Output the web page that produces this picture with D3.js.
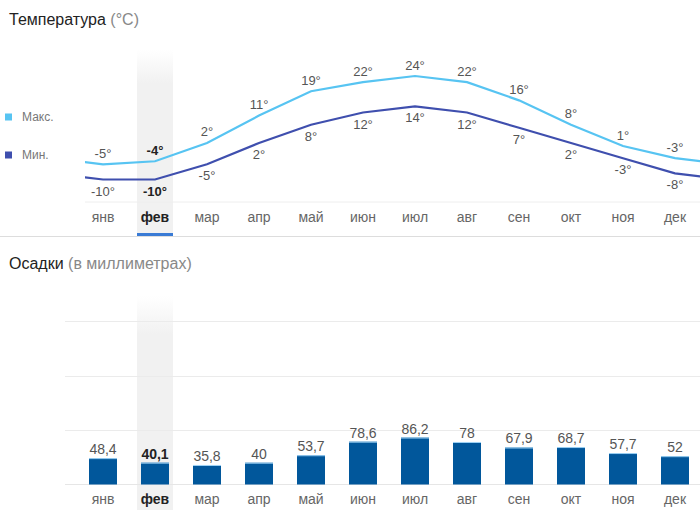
<!DOCTYPE html>
<html><head><meta charset="utf-8">
<script src="https://cdn.jsdelivr.net/npm/d3@7"></script>
<style>
body{margin:0;background:#fff;}
svg{display:block;font-family:"Liberation Sans",Arial,sans-serif;}
</style></head>
<body><svg id="c" width="700" height="510"></svg>
<script>
const months = ["янв","фев","мар","апр","май","июн","июл","авг","сен","окт","ноя","дек"];
const tMax = [-5,-4,2,11,19,22,24,22,16,8,1,-3];
const tMin = [-10,-10,-5,2,8,12,14,12,7,2,-3,-8];
const precip = [48.4,40.1,35.8,40,53.7,78.6,86.2,78,67.9,68.7,57.7,52];
const precipLabels = ["48,4","40,1","35,8","40","53,7","78,6","86,2","78","67,9","68,7","57,7","52"];
const gridTicks = [100,200,300];
const selected = 1;

const svg = d3.select("#c");
const defs = svg.append("defs");
const g1 = defs.append("linearGradient").attr("id","hl1").attr("x1",0).attr("x2",0).attr("y1",0).attr("y2",1);
g1.append("stop").attr("offset","0").attr("stop-color","#f1f1f1").attr("stop-opacity",0);
g1.append("stop").attr("offset","0.18").attr("stop-color","#f1f1f1").attr("stop-opacity",1);
g1.append("stop").attr("offset","1").attr("stop-color","#f1f1f1").attr("stop-opacity",1);
defs.append("clipPath").attr("id","lineclip").append("rect").attr("x",85).attr("y",0).attr("width",615).attr("height",240);

const x = d3.scaleBand().domain(months).range([77,701]).padding(0);
const cx = i => x(months[i]) + x.bandwidth()/2;
const step = x.step();
const xi = i => x(months[0]) + x.bandwidth()/2 + i*step;

// ===== Titles
const t1 = svg.append("text").attr("x",9).attr("y",25).attr("font-size",16);
t1.append("tspan").attr("fill","#222").text("Температура");
t1.append("tspan").attr("fill","#888").text(" (°C)");

// ===== Temperature chart
const yT = d3.scaleLinear().domain([-10,24]).range([179.5,76]);
svg.append("rect").attr("x",cx(selected)-18).attr("y",50).attr("width",36).attr("height",184).attr("fill","url(#hl1)");
svg.append("line").attr("x1",85).attr("x2",700).attr("y1",202).attr("y2",202).attr("stroke","#eeeeee");
svg.append("line").attr("x1",0).attr("x2",700).attr("y1",236.5).attr("y2",236.5).attr("stroke","#dddddd");
svg.append("rect").attr("x",cx(selected)-18).attr("y",233).attr("width",36).attr("height",3).attr("fill","#3a7bd5");

function ext(arr){ // wrap-around neighbours for edges
  const pts = [[xi(-1), arr[11]]];
  arr.forEach((v,i)=>pts.push([xi(i), v]));
  pts.push([xi(12), arr[0]]);
  return pts;
}
const line = d3.line().x(d=>d[0]).y(d=>yT(d[1]));
const lg = svg.append("g").attr("clip-path","url(#lineclip)");
lg.append("path").attr("d",line(ext(tMin))).attr("fill","none").attr("stroke","#3f4fae").attr("stroke-width",2.2);
lg.append("path").attr("d",line(ext(tMax))).attr("fill","none").attr("stroke","#57c4f2").attr("stroke-width",2.2);

svg.append("g").selectAll("text").data(tMax).join("text")
  .attr("x",(d,i)=>cx(i)).attr("y",d=>yT(d)-6.5).attr("text-anchor","middle").attr("font-size",13)
  .attr("fill",(d,i)=>i===selected?"#222":"#555").attr("font-weight",(d,i)=>i===selected?"bold":"normal")
  .text(d=>d+"°");
svg.append("g").selectAll("text").data(tMin).join("text")
  .attr("x",(d,i)=>cx(i)).attr("y",d=>yT(d)+16).attr("text-anchor","middle").attr("font-size",13)
  .attr("fill",(d,i)=>i===selected?"#222":"#555").attr("font-weight",(d,i)=>i===selected?"bold":"normal")
  .text(d=>d+"°");

const axT = d3.axisBottom(x).tickSize(0).tickPadding(0);
const gaxT = svg.append("g").attr("transform","translate(0,222)").call(axT);
gaxT.select(".domain").remove();
gaxT.selectAll("text").attr("font-size",14).attr("font-family","Liberation Sans, Arial, sans-serif")
  .attr("fill",(d,i)=>i===selected?"#222":"#666").attr("font-weight",(d,i)=>i===selected?"bold":"normal").attr("dy",0);

// legend
const legend = [{name:"Макс.",color:"#57c4f2",y:117},{name:"Мин.",color:"#3f4fae",y:155}];
const lgd = svg.append("g").selectAll("g").data(legend).join("g");
lgd.append("rect").attr("x",5).attr("y",d=>d.y-3.5).attr("width",7).attr("height",7).attr("fill",d=>d.color);
lgd.append("text").attr("x",22).attr("y",d=>d.y+4).attr("font-size",12).attr("fill","#777").text(d=>d.name);

// ===== Precipitation chart
const t2 = svg.append("text").attr("x",9).attr("y",269).attr("font-size",16);
t2.append("tspan").attr("fill","#222").text("Осадки");
t2.append("tspan").attr("fill","#888").text(" (в миллиметрах)");

const yP = d3.scaleLinear().domain([0,300]).range([484.5,321]);
svg.append("rect").attr("x",cx(selected)-18).attr("y",296).attr("width",36).attr("height",214).attr("fill","url(#hl1)");
svg.append("g").selectAll("line").data(gridTicks).join("line")
  .attr("x1",65).attr("x2",700).attr("y1",d=>Math.round(yP(d))+0.5).attr("y2",d=>Math.round(yP(d))+0.5)
  .attr("stroke","#ebebeb");
svg.append("line").attr("x1",65).attr("x2",700).attr("y1",484.5).attr("y2",484.5).attr("stroke","#e6e6e6");

const bw = 28;
svg.append("g").selectAll("rect").data(precip).join("rect")
  .attr("x",(d,i)=>cx(i)-bw/2).attr("y",d=>yP(d)).attr("width",bw).attr("height",d=>yP(0)-yP(d))
  .attr("fill","#01579b");
svg.append("g").selectAll("line").data(precip).join("line")
  .attr("x1",(d,i)=>cx(i)-bw/2).attr("x2",(d,i)=>cx(i)+bw/2).attr("y1",d=>yP(d)+0.5).attr("y2",d=>yP(d)+0.5)
  .attr("stroke","#9fd3f5").attr("stroke-width",1);
svg.append("g").selectAll("text").data(precip).join("text")
  .attr("x",(d,i)=>cx(i)).attr("y",d=>yP(d)-4).attr("text-anchor","middle").attr("font-size",14)
  .attr("fill",(d,i)=>i===selected?"#222":"#555").attr("font-weight",(d,i)=>i===selected?"bold":"normal")
  .text((d,i)=>precipLabels[i]);

const gaxP = svg.append("g").attr("transform","translate(0,504)").call(axT);
gaxP.select(".domain").remove();
gaxP.selectAll("text").attr("font-size",14).attr("font-family","Liberation Sans, Arial, sans-serif")
  .attr("fill",(d,i)=>i===selected?"#222":"#666").attr("font-weight",(d,i)=>i===selected?"bold":"normal").attr("dy",0);
</script></body></html>
